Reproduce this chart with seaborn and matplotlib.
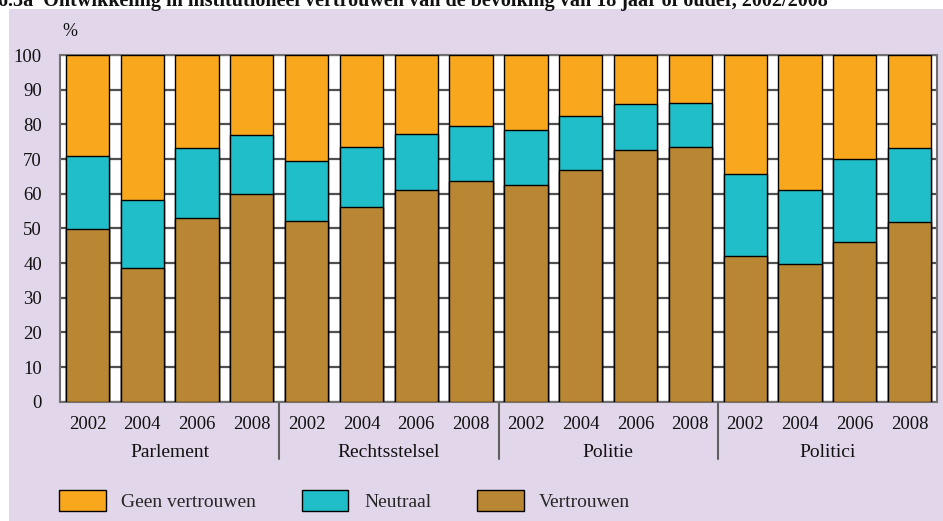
import matplotlib
matplotlib.use("Agg")
import matplotlib.pyplot as plt
import seaborn as sns
import pandas as pd
from matplotlib.patches import Rectangle
from matplotlib.lines import Line2D

groups = ["Parlement", "Rechtsstelsel", "Politie", "Politici"]
years = ["2002", "2004", "2006", "2008"]
vertrouwen = [49.7, 38.7, 53.0, 59.8, 52.2, 56.3, 61.0, 63.7,
              62.4, 66.9, 72.6, 73.4, 42.0, 39.6, 46.2, 51.9]
neutraal = [21.3, 19.4, 20.2, 17.1, 17.1, 17.3, 16.1, 15.7,
            16.0, 15.4, 13.2, 12.7, 23.6, 21.4, 23.8, 21.2]
geen_vertrouwen = [29.0, 41.9, 26.8, 23.1, 30.7, 26.4, 22.9, 20.6,
                   21.6, 17.7, 14.2, 13.9, 34.4, 39.0, 30.0, 26.9]
series_names = ["Geen vertrouwen", "Neutraal", "Vertrouwen"]
colors = {"Geen vertrouwen": "#F9A81E", "Neutraal": "#20BEC8", "Vertrouwen": "#B98734"}

sns.set_style("white")
plt.rcParams["font.family"] = ["Liberation Serif", "DejaVu Serif"]

bars = [f"{g} {y}" for g in groups for y in years]
df = pd.DataFrame({
    "bar": bars,
    "Vertrouwen": vertrouwen,
    "Neutraal": neutraal,
    "Geen vertrouwen": geen_vertrouwen,
})
df["cum_v"] = df["Vertrouwen"]
df["cum_n"] = df["cum_v"] + df["Neutraal"]
df["cum_g"] = df["cum_n"] + df["Geen vertrouwen"]

W, H = 943, 521
fig = plt.figure(figsize=(W / 100, H / 100), dpi=100, facecolor="white")
fig.patches.append(Rectangle((9 / W, 0), 1, 1 - 9 / H, transform=fig.transFigure,
                             facecolor="#E2D6EA", edgecolor="none", zorder=-5))
fig.text(-2 / W, 1 - 6 / H,
         "6.3a  Ontwikkeling in institutioneel vertrouwen van de bevolking van 18 jaar of ouder, 2002/2008",
         fontsize=14.5, fontweight="bold", va="baseline", ha="left", color="#111111")

ax_l, ax_r, ax_t, ax_b = 60, 937, 55, 401.7
ax = fig.add_axes([ax_l / W, (H - ax_b) / H, (ax_r - ax_l) / W, (ax_b - ax_t) / H])
ax.set_zorder(2)
ax.set_facecolor("white")

for col, name in [("cum_g", "Geen vertrouwen"), ("cum_n", "Neutraal"), ("cum_v", "Vertrouwen")]:
    sns.barplot(data=df, x="bar", y=col, order=bars, color=colors[name], width=0.79,
                edgecolor="black", linewidth=1.0, saturation=1, label=name, ax=ax, zorder=3)

handles, labels = ax.get_legend_handles_labels()
if ax.get_legend() is not None:
    ax.get_legend().remove()

ax.set_xlim(-0.5, len(bars) - 0.5)
ax.set_ylim(0, 100)
ax.set_yticks(range(0, 101, 10))
ax.yaxis.grid(True, color="#505050", linewidth=1.6, zorder=1)
ax.xaxis.grid(False)
ax.set_axisbelow(True)
for s in ax.spines.values():
    s.set_color("#707070")
    s.set_linewidth(1.5)
ax.set_xlabel("")
ax.set_ylabel("")
ax.set_xticks(range(len(bars)))
ax.set_xticklabels(years * len(groups))
ax.tick_params(axis="both", length=0, labelsize=13.5, colors="#111111")
ax.tick_params(axis="x", pad=10)
ax.tick_params(axis="y", pad=13)

ah = ax_b - ax_t
for i, g in enumerate(groups):
    ax.text(i * 4 + 1.5, -(452.5 - ax_b) / ah, g, transform=ax.get_xaxis_transform(),
            ha="center", va="center", fontsize=14, color="#111111")
for k in range(1, len(groups)):
    ax.add_line(Line2D([k * 4 - 0.5, k * 4 - 0.5], [0, -(459 - ax_b) / ah],
                       transform=ax.get_xaxis_transform(), color="#606060",
                       linewidth=1.5, clip_on=False))

fig.text(62 / W, 1 - 32 / H, "%", fontsize=13, va="center", ha="left", color="#111111")

fig.legend(handles, labels, loc="center left", bbox_to_anchor=(59 / W, (H - 500.5) / H),
           ncol=3, frameon=False, fontsize=14, handlelength=2.4, handleheight=1.25,
           handletextpad=0.8, columnspacing=2.35, borderaxespad=0, borderpad=0)

fig.savefig("out.png", dpi=100, facecolor=fig.get_facecolor())
